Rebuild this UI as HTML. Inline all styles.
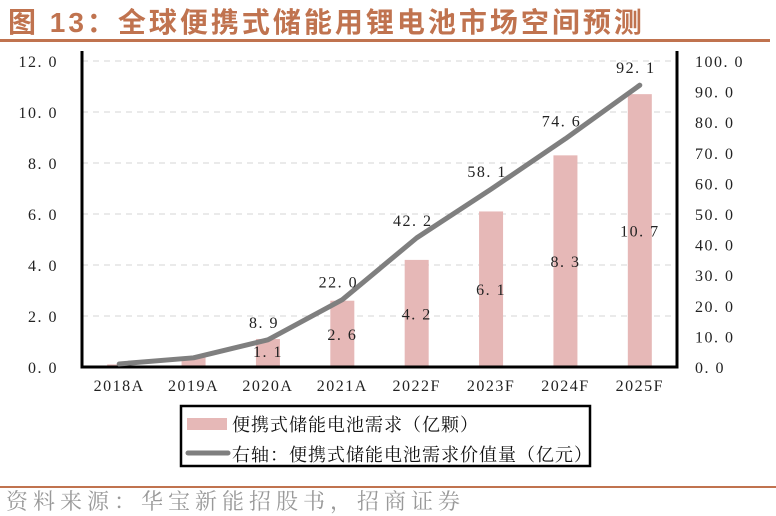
<!DOCTYPE html>
<html><head><meta charset="utf-8"><style>
body{margin:0;background:#fff;width:776px;height:513px;overflow:hidden;font-family:"Liberation Serif","Noto Serif CJK SC",serif}
.t{position:absolute;left:8px;top:1px;font:bold 28px "Liberation Sans","Noto Sans CJK SC",sans-serif;color:#c0734f;letter-spacing:3px}
</style></head><body>
<div class="t">图 13：全球便携式储能用锂电池市场空间预测</div>
<div style="position:absolute;left:0;top:39px;width:770px;height:3px;background:#c0734f"></div>
<div style="position:absolute;left:0;top:486px;width:776px;height:2px;background:#c0734f"></div>
<div style="position:absolute;left:6px;top:485px;font:22px 'Liberation Serif','Noto Serif CJK SC',serif;color:#999;letter-spacing:5px">资料来源：华宝新能招股书，招商证券</div>
<svg id="c" width="776" height="513" style="position:absolute;left:0;top:0"></svg>
<script>
const categories=["2018A","2019A","2020A","2021A","2022F","2023F","2024F","2025F"];
const barValues=[0.1,0.4,1.1,2.6,4.2,6.1,8.3,10.7];
const lineValues=[1.0,3.0,8.9,22.0,42.2,58.1,74.6,92.1];
const lineLabels=["","","8.9","22.0","42.2","58.1","74.6","92.1"];
const leftTicks=[0,2,4,6,8,10,12];
const rightTicks=[0,10,20,30,40,50,60,70,80,90,100];
const svg=document.getElementById('c');const NS='http://www.w3.org/2000/svg';
const X0=82,X1=677,Y0=367,Y1=61;
const cw=(X1-X0)/categories.length;
const xc=i=>X0+cw*(i+0.5);
const yl=v=>Y0-(v/12)*(Y0-Y1);
const yr=v=>Y0-(v/100)*(Y0-Y1);
function mk(t,a,txt){const e=document.createElementNS(NS,t);for(const k in a)e.setAttribute(k,a[k]);if(txt!=null)e.textContent=txt;svg.appendChild(e);return e;}
leftTicks.forEach(v=>{if(v>0){const g=mk('line',{x1:X0,x2:X1,y1:yl(v),y2:yl(v),stroke:'#d4d4d4','stroke-dasharray':'6,5'});

}
const t=mk('text',{x:58,y:yl(v)+6,'text-anchor':'end','font-size':16,'letter-spacing':1.5,fill:'#222'},v.toFixed(1).replace('.','. '));

});
rightTicks.forEach(v=>{const t=mk('text',{x:695,y:yr(v)+6,'font-size':16,'letter-spacing':1.5,fill:'#222'},v.toFixed(1).replace('.','. '));

});
barValues.forEach((v,i)=>{const b=mk('rect',{x:xc(i)-12,y:yl(v),width:24,height:Y0-yl(v),fill:'#e6b8b7'});


if(i>=2){const t=mk('text',{x:xc(i),y:Math.min(yl(v)/2+Y0/2,Y0-16)+6,'text-anchor':'middle','font-size':16,'letter-spacing':1.5,fill:'#222'},v.toFixed(1).replace('.','. '));

}
const c=mk('text',{x:xc(i),y:391,'text-anchor':'middle','font-size':16,'letter-spacing':1.5,fill:'#222'},categories[i]);

});
const ax=mk('path',{d:`M${X0},${Y1-10}V${Y0}H${X1}V${Y1-10}`,fill:'none',stroke:'#000','stroke-width':3});


const ln=mk('polyline',{points:lineValues.map((v,i)=>xc(i)+','+yr(v)).join(' '),fill:'none',stroke:'#7f7f7f','stroke-width':5,'stroke-linejoin':'round','stroke-linecap':'round'});


lineValues.forEach((v,i)=>{if(!lineLabels[i])return;const t=mk('text',{x:xc(i)-4,y:yr(v)-12,'text-anchor':'middle','font-size':16,'letter-spacing':1.5,fill:'#222'},lineLabels[i].replace('.','. '));

});
const lb=mk('rect',{x:181,y:406,width:409,height:60,fill:'#fff',stroke:'#000','stroke-width':2.5});


const l1=mk('rect',{x:187,y:418,width:40,height:12,fill:'#e6b8b7'});


const l2=mk('line',{x1:188,x2:228,y1:453,y2:453,stroke:'#7f7f7f','stroke-width':5,'stroke-linecap':'round'});


const t1=mk('text',{x:232,y:431,'font-size':18,'letter-spacing':1,fill:'#111'},'便携式储能电池需求（亿颗）');


const t2=mk('text',{x:232,y:461,'font-size':18,'letter-spacing':1,fill:'#111'},'右轴：便携式储能电池需求价值量（亿元）');


</script>
</body></html>
